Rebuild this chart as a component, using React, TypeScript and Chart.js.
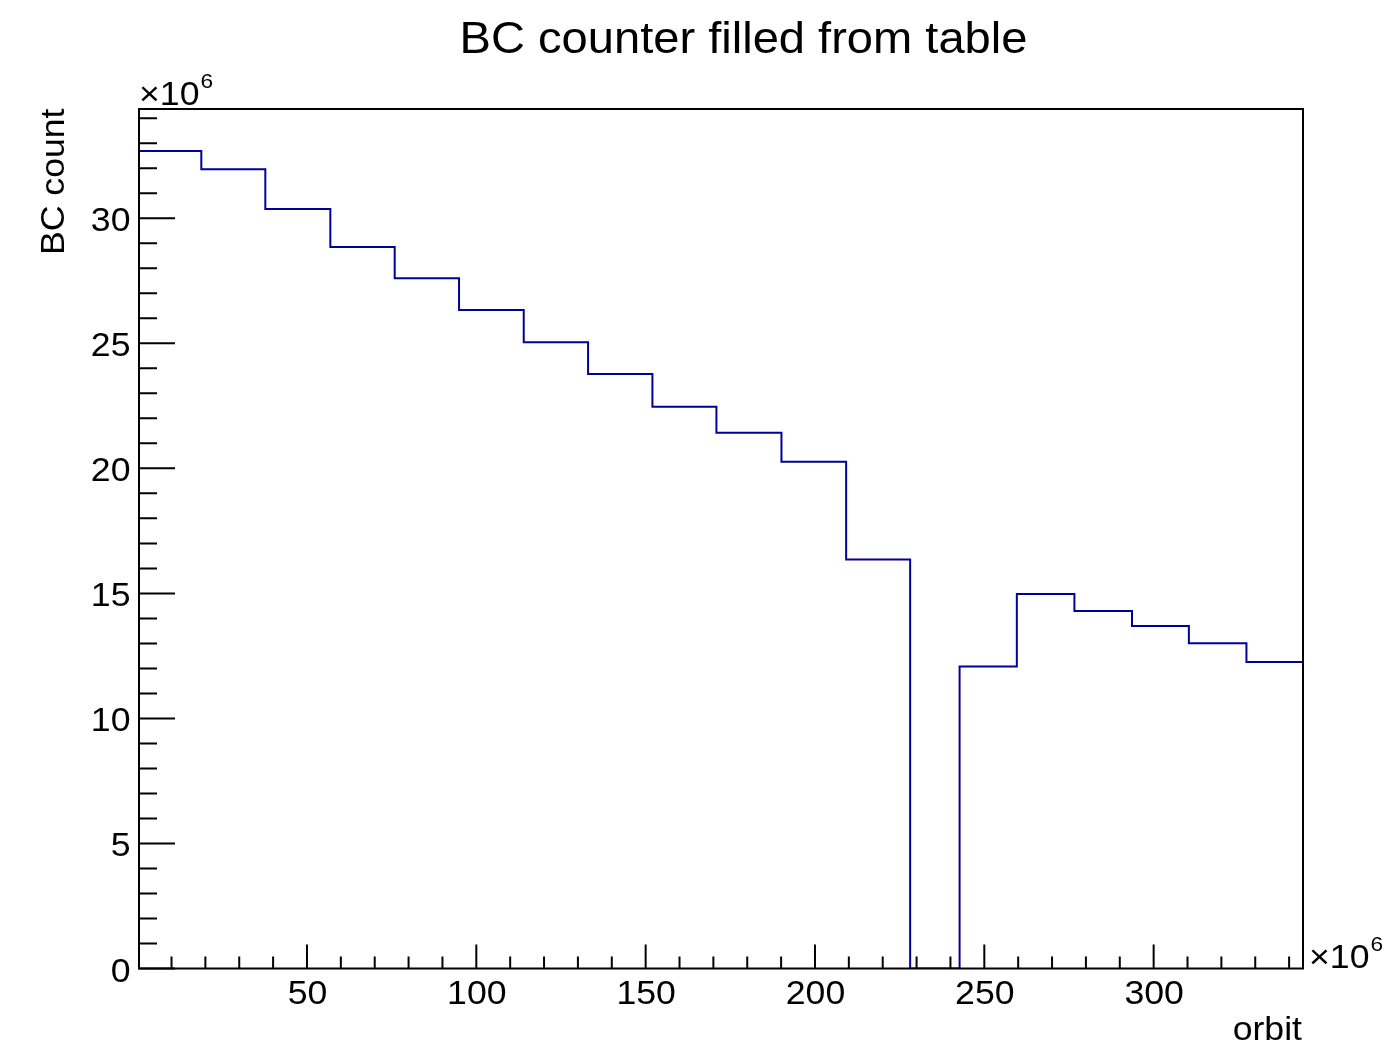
import React, { useEffect, useRef } from "react";
import { Chart, registerables } from "chart.js";

Chart.register(...registerables);

// ---- data (x in units of 10^6 orbits, y in units of 10^6 BC) ----
const BIN_EDGES = [0.4, 18.8, 37.7, 56.9, 75.9, 94.9, 114.0, 133.0, 152.0, 170.9, 190.1, 209.2, 228.1, 242.7, 259.6, 276.6, 293.6, 310.4, 327.4, 344.1];
const BIN_COUNTS = [32.69, 31.96, 30.37, 28.85, 27.6, 26.33, 25.04, 23.77, 22.46, 21.42, 20.26, 16.36, 0, 12.08, 14.98, 14.3, 13.7, 13.01, 12.26];
const X_RANGE = [0.4, 344.1];
const Y_RANGE = [0, 34.37];
const X_MAJOR_TICKS = [50, 100, 150, 200, 250, 300];
const X_TICK_LABELS = ["50", "100", "150", "200", "250", "300"];
const Y_MAJOR_TICKS = [0, 5, 10, 15, 20, 25, 30];
const Y_TICK_LABELS = ["0", "5", "10", "15", "20", "25", "30"];
const X_MINOR_STEP = 10;
const Y_MINOR_STEP = 1;
const TITLE = "BC counter filled from table";
const X_TITLE = "orbit";
const Y_TITLE = "BC count";
const EXPONENT = "6";

const FONT = "'Liberation Sans', Arial, Helvetica, sans-serif";
const LINE_COLOR = "#00009c";

function drawText(
  ctx: CanvasRenderingContext2D,
  text: string,
  x: number,
  y: number,
  size: number,
  align: CanvasTextAlign,
  stretch = 1.08,
  rotate = 0
) {
  ctx.save();
  ctx.translate(x, y);
  if (rotate) ctx.rotate(rotate);
  ctx.scale(stretch, 1);
  ctx.font = `${size}px ${FONT}`;
  ctx.textAlign = align;
  ctx.textBaseline = "alphabetic";
  ctx.fillStyle = "#000";
  ctx.fillText(text, 0, 0);
  ctx.restore();
}

function textWidth(ctx: CanvasRenderingContext2D, text: string, size: number, stretch = 1.08) {
  ctx.save();
  ctx.font = `${size}px ${FONT}`;
  const w = ctx.measureText(text).width * stretch;
  ctx.restore();
  return w;
}

const rootStylePlugin = {
  id: "rootStyle",
  afterDraw(chart: any) {
    const ctx: CanvasRenderingContext2D = chart.ctx;
    const { left, right, top, bottom } = chart.chartArea;
    const xs = chart.scales.x;
    const ys = chart.scales.y;

    ctx.save();
    // ticks (ROOT style: inward)
    ctx.strokeStyle = "#000";
    ctx.lineWidth = 2;
    ctx.beginPath();
    for (let v = Math.ceil(Y_RANGE[0]); v <= Y_RANGE[1]; v += Y_MINOR_STEP) {
      const y = ys.getPixelForValue(v);
      const len = Y_MAJOR_TICKS.includes(v) ? 36 : 18;
      ctx.moveTo(left, y);
      ctx.lineTo(left + len, y);
    }
    for (let v = X_MINOR_STEP; v <= X_RANGE[1]; v += X_MINOR_STEP) {
      if (v < X_RANGE[0]) continue;
      const x = xs.getPixelForValue(v);
      const len = X_MAJOR_TICKS.includes(v) ? 24 : 12;
      ctx.moveTo(x, bottom);
      ctx.lineTo(x, bottom - len);
    }
    ctx.stroke();

    // frame
    ctx.lineWidth = 2;
    ctx.strokeRect(left, top, right - left, bottom - top);
    ctx.restore();

    // tick labels
    Y_MAJOR_TICKS.forEach((v, i) => {
      const y = ys.getPixelForValue(v);
      drawText(ctx, Y_TICK_LABELS[i], 130.5, y + 13, 33, "right");
    });
    X_MAJOR_TICKS.forEach((v, i) => {
      const x = xs.getPixelForValue(v);
      drawText(ctx, X_TICK_LABELS[i], x + 0.5, 1004, 33, "center");
    });

    // exponent labels
    const base = "\u00d710";
    drawText(ctx, base, 139, 104.5, 33, "left");
    drawText(ctx, EXPONENT, 139 + textWidth(ctx, base, 33) + 1, 88, 21, "left");
    drawText(ctx, base, 1309, 968, 33, "left");
    drawText(ctx, EXPONENT, 1309 + textWidth(ctx, base, 33) + 1, 951, 21, "left");

    // titles
    drawText(ctx, TITLE, 743.5, 52.5, 44, "center", 1.07);
    drawText(ctx, X_TITLE, 1302, 1040, 33, "right");
    drawText(ctx, Y_TITLE, 63.5, 108.5, 33, "right", 1.08, -Math.PI / 2);
  },
};

export default function App() {
  const canvasRef = useRef<HTMLCanvasElement | null>(null);

  useEffect(() => {
    const canvas = canvasRef.current;
    if (!canvas) return;
    const points = BIN_EDGES.map((e, i) => ({
      x: e,
      y: BIN_COUNTS[Math.min(i, BIN_COUNTS.length - 1)],
    }));
    const chart = new Chart(canvas, {
      type: "line",
      data: {
        datasets: [
          {
            data: points,
            borderColor: LINE_COLOR,
            borderWidth: 2,
            pointRadius: 0,
            stepped: "before",
            fill: false,
            tension: 0,
          } as any,
        ],
      },
      options: {
        responsive: false,
        animation: false,
        devicePixelRatio: 1,
        layout: { padding: { left: 139, top: 109, right: 81, bottom: 77.5 } },
        plugins: {
          legend: { display: false },
          tooltip: { enabled: false },
          title: { display: false },
        },
        scales: {
          x: { type: "linear", min: X_RANGE[0], max: X_RANGE[1], display: false },
          y: { type: "linear", min: Y_RANGE[0], max: Y_RANGE[1], display: false },
        },
      },
      plugins: [rootStylePlugin],
    });
    return () => chart.destroy();
  }, []);

  return (
    <div style={{ position: "fixed", left: 0, top: 0, width: 1384, height: 1046, background: "#fff" }}>
      <canvas ref={canvasRef} width={1384} height={1046} style={{ display: "block" }} />
    </div>
  );
}
